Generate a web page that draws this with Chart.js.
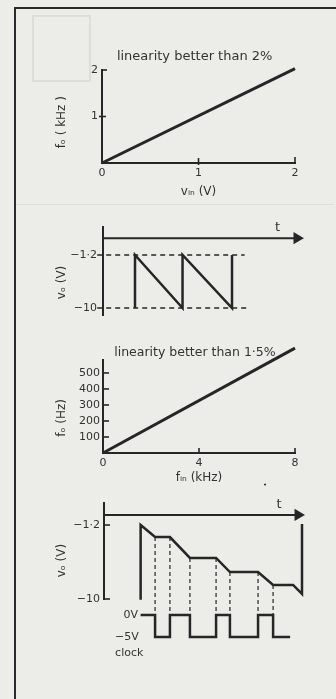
<!DOCTYPE html>
<html>
<head>
<meta charset="utf-8">
<script src="https://cdn.jsdelivr.net/npm/chart.js@4.4.0/dist/chart.umd.min.js"></script>
<style>
html, body { margin: 0; padding: 0; background: #ecece9; width: 336px; height: 699px; overflow: hidden; }
#page { position: relative; width: 336px; height: 699px; }
#page canvas { position: absolute; left: 0; top: 0; }
.frameL { position: absolute; left: 14px; top: 7px; width: 2px; height: 692px; background: #2b2b2b; }
.frameT { position: absolute; left: 14px; top: 7px; width: 322px; height: 2px; background: #2b2b2b; }
.ghost { position: absolute; border: 2px solid #dddddb; }
</style>
</head>
<body>
<div id="page">
  <div class="ghost" style="left:32px;top:15px;width:55px;height:63px;"></div>
  <div class="ghost" style="left:16px;top:204px;width:318px;height:0;border-width:1px 0 0 0;"></div>
  <div class="frameL"></div>
  <div class="frameT"></div>
  <canvas id="plotLinear" width="336" height="699"></canvas>
  <canvas id="plotSaw" width="336" height="699"></canvas>
  <canvas id="plotFreq" width="336" height="699"></canvas>
  <canvas id="plotStair" width="336" height="699"></canvas>
</div>
<script>
// panel 1: fo (kHz) against vin (V)
const vinVolts = [0, 2];
const foKHz = [0, 2.03];
const p1XTicks = [0, 1, 2];
const p1YTicks = [1, 2];

// panel 2: sawtooth output
const sawT = [16.5, 16.5, 41, 41, 66.5, 66.5];
const sawV = [-10, -1.2, -10, -1.2, -10, -1.2];
const sawLevels = [-1.2, -10];
const sawLevelEnd = [73, 74];
const p2TAxisLevel = 1.6;
const p2YTicks = [-1.2, -10];

// panel 3: fo (Hz) against fin (kHz)
const finKHz = [0, 8];
const foHz = [0, 655];
const p3XTicks = [0, 4, 8];
const p3YTicks = [100, 200, 300, 400, 500];

// panel 4: staircase output and clock
const stairT = [18.5, 18.5, 25.8, 33.3, 43.4, 56.6, 63.6, 77.8, 85.4, 95.5, 100, 100];
const stairV = [-10.1, -1.2, -2.63, -2.63, -5.12, -5.12, -6.79, -6.79, -8.33, -8.33, -9.4, -1.08];
const clockT = [18.5, 25.8, 25.8, 33.3, 33.3, 43.4, 43.4, 56.6, 56.6, 63.6, 63.6, 77.8, 77.8, 85.4, 85.4, 94];
const clockV = [0, 0, -5, -5, 0, 0, -5, -5, 0, 0, -5, -5, 0, 0, -5, -5];
const dropT = [25.8, 33.3, 43.4, 56.6, 63.6, 77.8, 85.4];
const dropFrom = [-2.63, -2.63, -5.12, -5.12, -6.79, -6.79, -8.33];
const dropTo = -11.9; // clock 0V level seen on the vo scale
const p4YTicks = [-1.2, -10];

const ink = '#262626';
const txt = '#333333';
Chart.defaults.font.family = '"DejaVu Sans", sans-serif';
Chart.defaults.font.size = 11;
Chart.defaults.color = txt;
Chart.defaults.animation = false;

function pts(xs, ys) {
    return xs.map((x, i) => ({ x: x, y: ys[i] }));
}

// short tick marks drawn inside the axes
function innerTicks(marks) {
    return {
        id: 'innerTicks',
        afterDraw(chart) {
            const ctx = chart.ctx;
            const area = chart.chartArea;
            ctx.save();
            ctx.strokeStyle = ink;
            ctx.lineWidth = 1.6;
            marks.forEach(m => {
                const s = chart.scales[m.axis];
                m.values.forEach(v => {
                    const p = s.getPixelForValue(v);
                    ctx.beginPath();
                    if (s.isHorizontal()) {
                        ctx.moveTo(p, area.bottom + (m.out || 0));
                        ctx.lineTo(p, area.bottom - m.len);
                    } else {
                        ctx.moveTo(area.left - (m.out || 0), p);
                        ctx.lineTo(area.left + m.len, p);
                    }
                    ctx.stroke();
                });
            });
            ctx.restore();
        }
    };
}

// free text placed with the chart scales
function notes(items) {
    return {
        id: 'notes',
        afterDraw(chart) {
            const ctx = chart.ctx;
            items.forEach(n => {
                const x = chart.scales.x.getPixelForValue(n.x);
                const y = chart.scales[n.axis || 'y'].getPixelForValue(n.y);
                ctx.save();
                ctx.font = n.font || '11px "DejaVu Sans"';
                ctx.fillStyle = txt;
                ctx.textAlign = n.align || 'center';
                ctx.textBaseline = 'middle';
                ctx.fillText(n.text, x + (n.dx || 0), y + (n.dy || 0));
                ctx.restore();
            });
        }
    };
}

function fixedTicks(list) {
    return function (scale) {
        scale.ticks = list.map(v => ({ value: v }));
    };
}

function fmtDot(v) {
    return String(v).replace('-', '\u2212').replace('.', '\u00b7');
}

const lineStyle = { borderColor: ink, borderWidth: 3, pointRadius: 0, fill: false, clip: false };
const dashStyle = { borderColor: ink, borderWidth: 1.5, borderDash: [5, 4], pointRadius: 0, fill: false, clip: false };

function yAxis(min, max, ticks, title, width, pad) {
    return {
        type: 'linear', position: 'left', min: min, max: max,
        afterBuildTicks: fixedTicks(ticks),
        afterFit(scale) { scale.width = width; },
        grid: { display: false, drawTicks: false },
        border: { color: ink, width: 2 },
        ticks: { padding: pad, callback: v => fmtDot(v), font: { size: 11 } },
        title: { display: true, text: title, font: { size: 12 }, padding: { top: 4, bottom: 4 }, color: txt }
    };
}

// ---------- panel 1 ----------
new Chart(document.getElementById('plotLinear'), {
    type: 'scatter',
    data: {
        datasets: [Object.assign({ data: pts(vinVolts, foKHz), showLine: true }, lineStyle)]
    },
    options: {
        responsive: false,
        layout: { padding: { left: 51, right: 41, top: 70, bottom: 496 } },
        plugins: { legend: { display: false }, tooltip: { enabled: false } },
        scales: {
            x: {
                type: 'linear', min: 0, max: 2,
                afterBuildTicks: fixedTicks(p1XTicks),
                afterFit(scale) { scale.height = 40; },
                grid: { display: false, drawTicks: false },
                border: { color: ink, width: 2 },
                ticks: { padding: 4, callback: v => String(v) },
                title: { display: true, text: 'v\u1d62\u2099 (V)', font: { size: 12 }, padding: { top: 4, bottom: 4 }, color: txt }
            },
            y: yAxis(0, 2, p1YTicks, 'f\u2092 ( kHz )   ', 51, 4)
        }
    },
    plugins: [
        innerTicks([
            { axis: 'y', values: [1], len: 4, out: 3 },
            { axis: 'y', values: [2], len: 5 },
            { axis: 'x', values: [1], len: 5, out: 2 },
            { axis: 'x', values: [2], len: 6 }
        ]),
        notes([{ text: 'linearity better than 2%', x: 0.96, y: 2.28, font: '13px "DejaVu Sans"' }])
    ]
});

// ---------- panel 2 ----------
const sawSets = [
    Object.assign({ data: pts(sawT, sawV), showLine: true }, lineStyle, { borderWidth: 2.5 }),
    Object.assign({
        data: [{ x: 0, y: p2TAxisLevel }, { x: 100, y: p2TAxisLevel }], showLine: true
    }, lineStyle, {
        borderWidth: 2, pointRadius: [0, 5], pointStyle: 'triangle', pointRotation: 90,
        pointBackgroundColor: ink, pointBorderColor: ink
    })
];
sawLevels.forEach((lv, i) => {
    sawSets.push(Object.assign({ data: [{ x: -3, y: lv }, { x: sawLevelEnd[i], y: lv }], showLine: true }, dashStyle));
});

new Chart(document.getElementById('plotSaw'), {
    type: 'scatter',
    data: { datasets: sawSets },
    options: {
        responsive: false,
        layout: { padding: { left: 51, right: 39, top: 227, bottom: 384 } },
        plugins: { legend: { display: false }, tooltip: { enabled: false } },
        scales: {
            x: { type: 'linear', display: false, min: 0, max: 100 },
            y: yAxis(-11.16, 3.45, p2YTicks, 'v\u2092 (V)      ', 52, 6)
        }
    },
    plugins: [
        notes([{ text: 't', x: 90, y: p2TAxisLevel, dy: -11, font: '13px "DejaVu Sans"' }])
    ]
});

// ---------- panel 3 ----------
new Chart(document.getElementById('plotFreq'), {
    type: 'scatter',
    data: {
        datasets: [Object.assign({ data: pts(finKHz, foHz), showLine: true }, lineStyle)]
    },
    options: {
        responsive: false,
        layout: { padding: { left: 51, right: 41, top: 360, bottom: 210 } },
        plugins: { legend: { display: false }, tooltip: { enabled: false } },
        scales: {
            x: {
                type: 'linear', min: 0, max: 8,
                afterBuildTicks: fixedTicks(p3XTicks),
                afterFit(scale) { scale.height = 36; },
                grid: { display: false, drawTicks: false },
                border: { color: ink, width: 2 },
                ticks: { padding: 4, callback: v => String(v) },
                title: { display: true, text: 'f\u1d62\u2099 (kHz)', font: { size: 12 }, padding: { top: 4, bottom: 4 }, color: txt }
            },
            y: yAxis(0, 581, p3YTicks, 'f\u2092 (Hz)      ', 52, 3)
        }
    },
    plugins: [
        innerTicks([
            { axis: 'y', values: p3YTicks, len: 6 },
            { axis: 'x', values: [4, 8], len: 5 }
        ]),
        notes([
            { text: 'linearity better than 1\u00b75%', x: 3.83, y: 625, font: '12.5px "DejaVu Sans"' },
            { text: '\u2022', x: 6.75, y: -200, font: '7px "DejaVu Sans"' }
        ])
    ]
});

// ---------- panel 4 ----------
const stairSets = [
    Object.assign({ data: pts(stairT, stairV), showLine: true }, lineStyle, { borderWidth: 2.5 }),
    Object.assign({ data: pts(clockT, clockV), showLine: true, yAxisID: 'yc' }, lineStyle, { borderWidth: 2.5 }),
    Object.assign({
        data: [{ x: 0, y: 0 }, { x: 98, y: 0 }], showLine: true
    }, lineStyle, {
        borderWidth: 2, pointRadius: [0, 5], pointStyle: 'triangle', pointRotation: 90,
        pointBackgroundColor: ink, pointBorderColor: ink
    })
];
dropT.forEach((t, i) => {
    stairSets.push(Object.assign({ data: [{ x: t, y: dropFrom[i] }, { x: t, y: dropTo }], showLine: true }, dashStyle, { borderWidth: 1.2, borderDash: [4, 3] }));
});

new Chart(document.getElementById('plotStair'), {
    type: 'scatter',
    data: { datasets: stairSets },
    options: {
        responsive: false,
        layout: { padding: { left: 51, right: 34, top: 503, bottom: 100 } },
        plugins: { legend: { display: false }, tooltip: { enabled: false } },
        scales: {
            x: { type: 'linear', display: false, min: 0, max: 100 },
            y: yAxis(-10, 1.42, p4YTicks, 'v\u2092 (V)     ', 53, 4),
            yc: { type: 'linear', display: false, min: 3.64, max: 25.45 }
        }
    },
    plugins: [
        innerTicks([{ axis: 'y', values: p4YTicks, len: 6 }]),
        notes([
            { text: 't', x: 88.4, y: 0, dy: -10, font: '13px "DejaVu Sans"' },
            { text: '0V', x: 17.2, y: 0, axis: 'yc', align: 'right' },
            { text: '\u22125V', x: 5.6, y: -5, axis: 'yc', align: 'left' },
            { text: 'clock', x: 5.6, y: -8.6, axis: 'yc', align: 'left' }
        ])
    ]
});
</script>
</body>
</html>
